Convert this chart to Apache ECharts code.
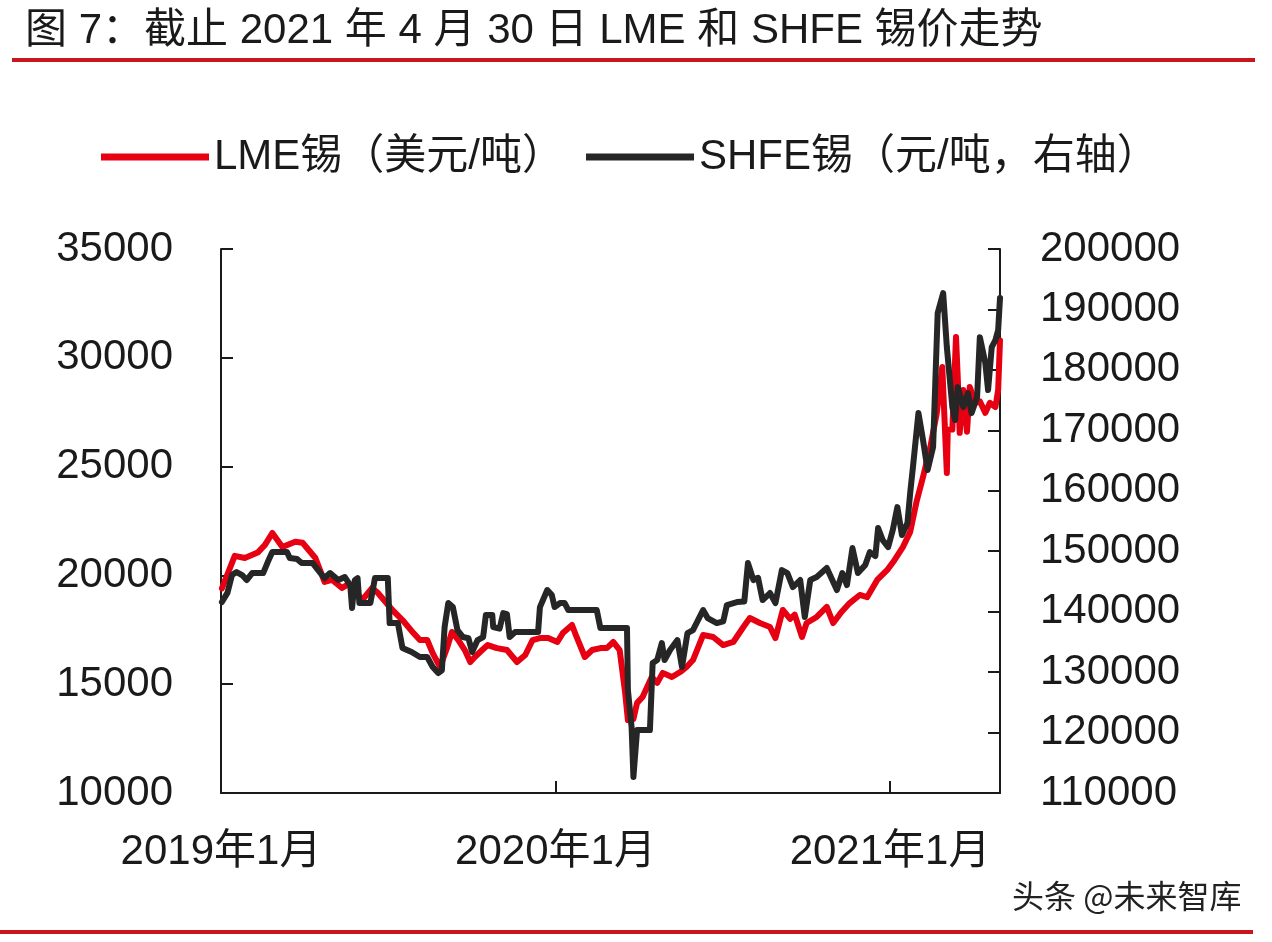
<!DOCTYPE html>
<html>
<head>
<meta charset="utf-8">
<title>LME 和 SHFE 锡价走势</title>
<script src="https://cdn.jsdelivr.net/npm/echarts@6/dist/echarts.min.js"></script>
<style>
  html, body { margin: 0; padding: 0; background: #ffffff; }
  #main { width: 1272px; height: 942px; }
</style>
</head>
<body>
<div id="main"></div>
<script>
// LME锡（美元/吨）
const lmeDates = [
  '2019-01-02', '2019-01-16', '2019-01-27', '2019-02-10', '2019-02-18', '2019-02-26', '2019-03-09', '2019-03-23',
  '2019-03-31', '2019-04-14', '2019-04-24', '2019-05-02', '2019-05-13', '2019-05-20', '2019-06-04', '2019-06-15',
  '2019-06-21', '2019-07-07', '2019-07-18', '2019-07-30', '2019-08-06', '2019-08-14', '2019-08-20', '2019-08-28',
  '2019-09-05', '2019-09-10', '2019-09-17', '2019-09-24', '2019-09-30', '2019-10-05', '2019-10-13', '2019-10-19',
  '2019-10-29', '2019-11-09', '2019-11-20', '2019-11-29', '2019-12-07', '2019-12-15', '2019-12-24', '2020-01-03',
  '2020-01-09', '2020-01-19', '2020-01-24', '2020-02-02', '2020-02-10', '2020-02-19', '2020-02-26', '2020-03-04',
  '2020-03-11', '2020-03-17', '2020-03-20', '2020-03-26', '2020-03-30', '2020-04-05', '2020-04-15', '2020-04-21',
  '2020-04-27', '2020-05-07', '2020-05-16', '2020-05-23', '2020-05-30', '2020-06-10', '2020-06-21', '2020-07-02',
  '2020-07-13', '2020-07-24', '2020-07-31', '2020-08-11', '2020-08-22', '2020-08-28', '2020-09-05', '2020-09-13',
  '2020-09-18', '2020-09-26', '2020-10-01', '2020-10-12', '2020-10-23', '2020-10-30', '2020-11-08', '2020-11-17',
  '2020-11-28', '2020-12-06', '2020-12-17', '2020-12-28', '2021-01-05', '2021-01-14', '2021-01-22', '2021-01-29',
  '2021-02-05', '2021-02-13', '2021-02-20', '2021-02-26', '2021-03-03', '2021-03-04', '2021-03-09', '2021-03-13',
  '2021-03-15', '2021-03-17', '2021-03-21', '2021-03-25', '2021-03-28', '2021-04-03', '2021-04-08', '2021-04-14',
  '2021-04-19', '2021-04-25', '2021-04-28', '2021-04-30'
];
const lmeValues = [
  19400, 20900, 20800, 21050, 21400, 21950, 21300, 21550,
  21500, 20800, 19700, 19800, 19420, 19600, 18870, 19420,
  19200, 18410, 17950, 17350, 17030, 17030, 16430, 15790,
  16710, 17400, 17030, 16570, 16020, 16250, 16570, 16800,
  16660, 16570, 16020, 16340, 17030, 17120, 17120, 16940,
  17350, 17720, 17170, 16250, 16570, 16660, 16660, 16940,
  16570, 14600, 13350, 13400, 14140, 14410, 15330, 15060,
  15520, 15330, 15560, 15790, 16110, 17260, 17170, 16800,
  16940, 17630, 18040, 17810, 17630, 17120, 18410, 18000,
  18200, 17170, 17810, 18090, 18550, 17810, 18320, 18730,
  19100, 19000, 19790, 20250, 20710, 21300, 22000, 23400,
  24520, 25900, 27460, 29580, 24710, 26690, 26700, 30960,
  28980, 26550, 28520, 26600, 28660, 27930, 28000, 27470,
  27930, 27740, 28520, 30800
];

// SHFE锡（元/吨，右轴）
const shfeDates = [
  '2019-01-02', '2019-01-08', '2019-01-13', '2019-01-18', '2019-01-24', '2019-01-29', '2019-02-04', '2019-02-16',
  '2019-02-21', '2019-02-26', '2019-03-14', '2019-03-17', '2019-03-25', '2019-03-30', '2019-04-11', '2019-04-17',
  '2019-04-24', '2019-04-30', '2019-05-09', '2019-05-16', '2019-05-22', '2019-05-24', '2019-05-27', '2019-05-30',
  '2019-06-01', '2019-06-13', '2019-06-18', '2019-07-02', '2019-07-04', '2019-07-13', '2019-07-18', '2019-07-28',
  '2019-08-06', '2019-08-14', '2019-08-20', '2019-08-26', '2019-08-30', '2019-09-02', '2019-09-06', '2019-09-11',
  '2019-09-16', '2019-09-22', '2019-09-28', '2019-10-02', '2019-10-08', '2019-10-14', '2019-10-17', '2019-10-24',
  '2019-10-25', '2019-11-01', '2019-11-05', '2019-11-09', '2019-11-12', '2019-11-18', '2019-12-13', '2019-12-15',
  '2019-12-23', '2019-12-28', '2019-12-31', '2020-01-06', '2020-01-11', '2020-01-15', '2020-02-15', '2020-02-19',
  '2020-03-19', '2020-03-20', '2020-03-24', '2020-03-26', '2020-03-30', '2020-04-13', '2020-04-16', '2020-04-21',
  '2020-04-26', '2020-04-29', '2020-05-05', '2020-05-13', '2020-05-18', '2020-05-24', '2020-05-30', '2020-06-10',
  '2020-06-15', '2020-06-25', '2020-07-02', '2020-07-06', '2020-07-17', '2020-07-25', '2020-07-29', '2020-08-04',
  '2020-08-09', '2020-08-14', '2020-08-22', '2020-08-28', '2020-09-04', '2020-09-10', '2020-09-16', '2020-09-24',
  '2020-09-29', '2020-10-05', '2020-10-12', '2020-10-23', '2020-11-03', '2020-11-09', '2020-11-14', '2020-11-20',
  '2020-11-26', '2020-12-04', '2020-12-09', '2020-12-15', '2020-12-18', '2020-12-23', '2020-12-29', '2021-01-03',
  '2021-01-08', '2021-01-13', '2021-01-19', '2021-01-22', '2021-01-25', '2021-01-31', '2021-02-05', '2021-02-10',
  '2021-02-16', '2021-02-21', '2021-02-27', '2021-03-03', '2021-03-09', '2021-03-12', '2021-03-15', '2021-03-21',
  '2021-03-26', '2021-03-30', '2021-04-05', '2021-04-08', '2021-04-14', '2021-04-17', '2021-04-21', '2021-04-25',
  '2021-04-28', '2021-04-30'
];
const shfeValues = [
  141600, 143100, 146060, 146550, 146060, 145230, 146390, 146390,
  148210, 149860, 149860, 148870, 148700, 148040, 148040, 146880,
  145560, 146390, 145230, 145730, 144400, 140600, 145230, 145560,
  141430, 141430, 145560, 145560, 138120, 138120, 133980, 133320,
  132490, 132490, 130840, 129850, 130300, 137460, 141430, 140760,
  136960, 135800, 135600, 133320, 135300, 135800, 139440, 139440,
  137460, 137200, 139770, 139600, 135800, 136630, 136630, 140760,
  143580, 142750, 140760, 141430, 141430, 140270, 140270, 137290,
  137290, 127040, 120920, 112650, 120420, 120420, 131500, 132000,
  134810, 132000, 133650, 135300, 130840, 136460, 136960, 140270,
  138950, 138120, 138400, 141100, 141590, 141700, 148040, 145230,
  145600, 141920, 143080, 141430, 146880, 146390, 144070, 145230,
  139110, 145230, 145730, 147220, 143580, 146390, 144400, 150520,
  146390, 147710, 149860, 149200, 153830, 151850, 150690, 153500,
  157300, 152670, 154660, 159620, 163920, 172850, 168390, 163430,
  167230, 189390, 192700, 183770, 173850, 171700, 177150, 173850,
  176160, 172850, 175500, 185420, 181120, 176660, 183770, 184920,
  186580, 191900
];

// x 轴刻度（距 2019-01-01 的天数）
const xTickDays = [0, 365, 730];
const xTickLabels = ['2019年1月', '2020年1月', '2021年1月'];

const startMs = Date.UTC(2019, 0, 1);
function toDay(s) {
  const p = s.split('-');
  return Math.round((Date.UTC(+p[0], +p[1] - 1, +p[2]) - startMs) / 86400000);
}
function pairs(dates, values) {
  return dates.map((d, i) => [toDay(d), values[i]]);
}

const FONT = '"Liberation Sans", Arial, "Noto Sans CJK SC", sans-serif';
const TEXT_COLOR = '#1a1a1a';
const RED = '#e60012';
const DARK = '#262626';

const chart = echarts.init(document.getElementById('main'), null, { renderer: 'canvas' });

const option = {
  backgroundColor: '#ffffff',
  animation: false,
  textStyle: { fontFamily: FONT },
  title: {
    text: '图 7：截止 2021 年 4 月 30 日 LME 和 SHFE 锡价走势',
    left: 20,
    top: 5,
    textStyle: { fontFamily: FONT, fontSize: 42, fontWeight: 'normal', color: TEXT_COLOR }
  },
  legend: {
    left: 96,
    top: 131,
    itemWidth: 108,
    itemHeight: 7,
    itemGap: 22,
    icon: 'rect',
    data: [
      { name: 'LME锡（美元/吨）', itemStyle: { color: RED } },
      { name: 'SHFE锡（元/吨，右轴）', itemStyle: { color: DARK } }
    ],
    textStyle: { fontFamily: FONT, fontSize: 42, color: TEXT_COLOR }
  },
  grid: { left: 221, right: 272, top: 249, bottom: 149, containLabel: false },
  xAxis: {
    type: 'value',
    min: 0,
    max: 850,
    interval: 365,
    axisLine: { lineStyle: { color: '#1a1a1a', width: 2 } },
    axisTick: { inside: true, length: 12, lineStyle: { color: '#1a1a1a', width: 2 } },
    splitLine: { show: false },
    axisLabel: {
      margin: 38,
      fontSize: 42,
      color: TEXT_COLOR,
      fontFamily: FONT,
      formatter: function (v) {
        const i = xTickDays.indexOf(v);
        return i >= 0 ? xTickLabels[i] : '';
      }
    }
  },
  yAxis: [
    {
      type: 'value',
      min: 10000,
      max: 35000,
      interval: 5000,
      axisLine: { show: true, lineStyle: { color: '#1a1a1a', width: 2 } },
      axisTick: { show: true, inside: true, length: 12, lineStyle: { color: '#1a1a1a', width: 2 } },
      splitLine: { show: false },
      axisLabel: { margin: 48, fontSize: 42, color: TEXT_COLOR, fontFamily: FONT, formatter: v => String(v) }
    },
    {
      type: 'value',
      min: 110000,
      max: 200000,
      interval: 10000,
      position: 'right',
      axisLine: { show: true, lineStyle: { color: '#1a1a1a', width: 2 } },
      axisTick: { show: true, inside: true, length: 12, lineStyle: { color: '#1a1a1a', width: 2 } },
      splitLine: { show: false },
      axisLabel: { margin: 40, fontSize: 42, color: TEXT_COLOR, fontFamily: FONT, formatter: v => String(v) }
    }
  ],
  series: [
    {
      name: 'LME锡（美元/吨）',
      type: 'line',
      yAxisIndex: 0,
      symbol: 'none',
      data: pairs(lmeDates, lmeValues),
      lineStyle: { color: RED, width: 6, join: 'round', cap: 'round' },
      itemStyle: { color: RED }
    },
    {
      name: 'SHFE锡（元/吨，右轴）',
      type: 'line',
      yAxisIndex: 1,
      symbol: 'none',
      data: pairs(shfeDates, shfeValues),
      lineStyle: { color: DARK, width: 6, join: 'round', cap: 'round' },
      itemStyle: { color: DARK }
    }
  ],
  graphic: [
    { type: 'rect', left: 12, top: 58, shape: { width: 1243, height: 4 }, style: { fill: '#c8161d' } },
    { type: 'rect', left: 0, top: 930, shape: { width: 1253, height: 4 }, style: { fill: '#c8161d' } },
    {
      type: 'text',
      left: 1012,
      top: 880,
      style: { text: '头条 @未来智库', font: '32px "Noto Sans CJK SC", sans-serif', fill: '#222222' }
    }
  ]
};

chart.setOption(option);
</script>
</body>
</html>
